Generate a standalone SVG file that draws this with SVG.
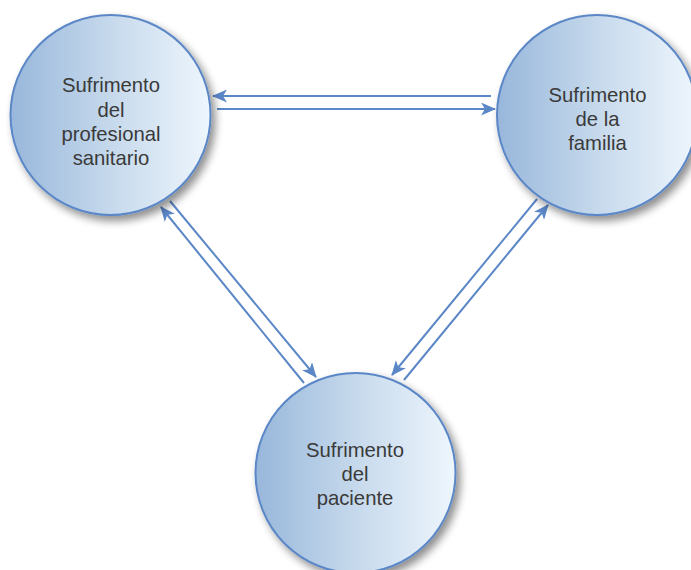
<svg xmlns="http://www.w3.org/2000/svg" width="691" height="570" viewBox="0 0 691 570">
<defs>
<linearGradient id="g" x1="0" y1="0" x2="1" y2="0">
<stop offset="0" stop-color="#98b7db"/>
<stop offset="0.5" stop-color="#c6d9ec"/>
<stop offset="1" stop-color="#eef6fd"/>
</linearGradient>
<filter id="sh" x="-20%" y="-20%" width="150%" height="150%">
<feGaussianBlur in="SourceAlpha" stdDeviation="4"/>
<feOffset dx="4" dy="5" result="b"/>
<feComponentTransfer><feFuncA type="linear" slope="0.45"/></feComponentTransfer>
<feMerge><feMergeNode/><feMergeNode in="SourceGraphic"/></feMerge>
</filter>
<marker id="ah" viewBox="0 0 15 13" refX="14" refY="6.5" markerWidth="15" markerHeight="13" markerUnits="userSpaceOnUse" orient="auto">
<path d="M0,0 L15,6.5 L0,13 L4,6.5 Z" fill="#5b87c7"/>
</marker>
<style>
.c{fill:url(#g);stroke:#5b87c7;stroke-width:2;filter:url(#sh)}
.t{font-family:"Liberation Sans",Arial,sans-serif;font-size:20.3px;fill:#3a3a3a;text-anchor:middle}
.l{stroke:#5b87c7;stroke-width:2;fill:none;marker-end:url(#ah)}
</style>
</defs>
<g id="connectors">
<line class="l" x1="491" y1="96" x2="213" y2="96"/>
<line class="l" x1="217" y1="109" x2="495" y2="109"/>
<line class="l" x1="304" y1="383" x2="161" y2="207"/>
<line class="l" x1="170" y1="201" x2="316" y2="377"/>
<line class="l" x1="537" y1="199" x2="392" y2="375"/>
<line class="l" x1="404" y1="380" x2="548" y2="205"/>
</g>
<g id="profesional">
<circle class="c" cx="110.5" cy="115" r="100"/>
<text class="t" x="111" y="92">Sufrimento</text>
<text class="t" x="111" y="117">del</text>
<text class="t" x="111" y="141">profesional</text>
<text class="t" x="111" y="165">sanitario</text>
</g>
<g id="familia">
<circle class="c" cx="597" cy="115" r="100"/>
<text class="t" x="597.5" y="102">Sufrimento</text>
<text class="t" x="597.5" y="126">de la</text>
<text class="t" x="597.5" y="150">familia</text>
</g>
<g id="paciente">
<circle class="c" cx="355.5" cy="473" r="100"/>
<text class="t" x="355" y="457">Sufrimento</text>
<text class="t" x="355" y="481">del</text>
<text class="t" x="355" y="505">paciente</text>
</g>
</svg>
